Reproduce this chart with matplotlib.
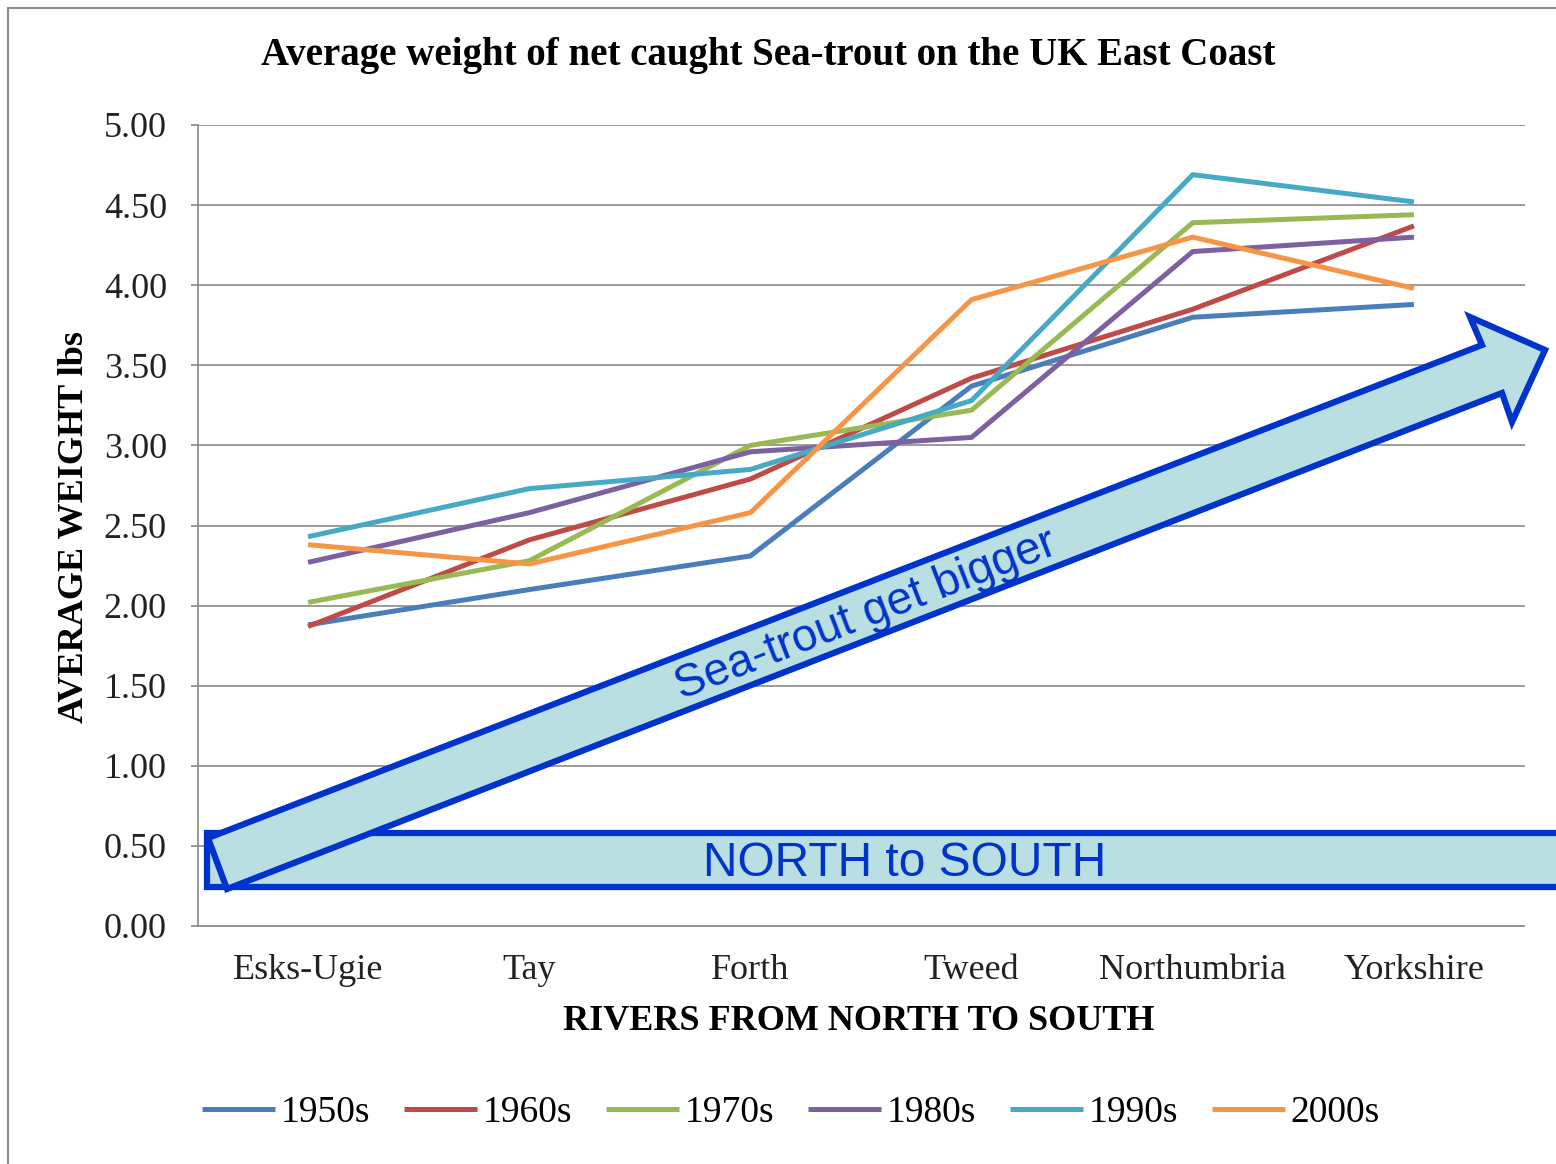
import matplotlib
matplotlib.use("Agg")
import matplotlib.pyplot as plt
from matplotlib.patches import Polygon, Rectangle

# data
rivers = ["Esks-Ugie", "Tay", "Forth", "Tweed", "Northumbria", "Yorkshire"]
decades = ["1950s", "1960s", "1970s", "1980s", "1990s", "2000s"]
w_1950s = [1.88, 2.10, 2.31, 3.37, 3.80, 3.88]
w_1960s = [1.87, 2.41, 2.79, 3.42, 3.85, 4.37]
w_1970s = [2.02, 2.28, 3.00, 3.22, 4.39, 4.44]
w_1980s = [2.27, 2.58, 2.96, 3.05, 4.21, 4.30]
w_1990s = [2.43, 2.73, 2.85, 3.28, 4.69, 4.52]
w_2000s = [2.38, 2.26, 2.58, 3.91, 4.30, 3.98]
colors = ["#4A7EBB", "#BE4B48", "#98B954", "#7D60A0", "#46AAC5", "#F69546"]
y_ticks = [0, 0.5, 1.0, 1.5, 2.0, 2.5, 3.0, 3.5, 4.0, 4.5, 5.0]

W, H = 1556, 1164
serif = "Liberation Serif"
sans = "Liberation Sans"


def fx(px):
    return px / W


def fy(py):
    return 1 - py / H


fig = plt.figure(figsize=(W / 100, H / 100), dpi=100)
ax = fig.add_axes([fx(197.5), fy(926), 1327 / W, 801 / H])

series = [w_1950s, w_1960s, w_1970s, w_1980s, w_1990s, w_2000s]
x = list(range(len(rivers)))
for vals, lab, c in zip(series, decades, colors):
    ax.plot(x, vals, color=c, lw=3.6, label=lab, solid_capstyle="butt", zorder=3)

ax.set_xlim(-0.5, 5.5)
ax.set_ylim(0, 5)
ax.set_yticks(y_ticks)
ax.set_yticklabels(["{:.2f}".format(t) for t in y_ticks], fontfamily=serif, fontsize=26, color="#222222")
ax.set_xticks(x)
ax.set_xticklabels(rivers, fontfamily=serif, fontsize=26, color="#222222")
ax.tick_params(axis="y", direction="out", length=5, width=1.2, color="#888888", pad=17)
ax.tick_params(axis="x", length=0, pad=20)
ax.grid(axis="y", color="#8a8a8a", lw=1.2)
ax.set_axisbelow(True)
for s in ["top", "right"]:
    ax.spines[s].set_visible(False)
for s in ["left", "bottom"]:
    ax.spines[s].set_color("#8a8a8a")
    ax.spines[s].set_linewidth(1.2)

fig.text(fx(768), fy(55), "Average weight of net caught Sea-trout on the UK East Coast",
         ha="center", va="center", fontfamily=serif, fontweight="bold", fontsize=28)
fig.text(fx(75), fy(527), "AVERAGE WEIGHT lbs", rotation=90, ha="center", va="center",
         fontfamily=serif, fontweight="bold", fontsize=26)
fig.text(fx(859), fy(1021), "RIVERS FROM NORTH TO SOUTH", ha="center", va="center",
         fontfamily=serif, fontweight="bold", fontsize=26)

fig.legend(loc="center", bbox_to_anchor=(fx(791), fy(1113)), ncol=6, frameon=False,
           prop={"family": serif, "size": 27}, handlelength=1.95, handletextpad=0.15,
           columnspacing=0.9)

# outer border of the chart
fig.add_artist(Rectangle((fx(8), -0.1), 1.2, fy(8) + 0.1, transform=fig.transFigure,
                         fill=False, edgecolor="#8c8c8c", lw=1.5))

edge = "#0033CC"
fill = "#B9DFE2"
# NORTH to SOUTH band
fig.add_artist(Rectangle((fx(207), fy(887)), fx(1600) - fx(207), fy(833) - fy(887),
                         transform=fig.transFigure, facecolor=fill, edgecolor=edge,
                         lw=4.5, zorder=5))
fig.text(fx(905), fy(863), "NORTH to SOUTH", ha="center", va="center", color=edge,
         fontfamily=sans, fontsize=34.5, zorder=7)

# big arrow
arrow_px = [(208, 838), (1482, 345), (1470, 317), (1545, 350), (1512, 422),
            (1502, 393), (227, 889)]
fig.add_artist(Polygon([(fx(a), fy(b)) for a, b in arrow_px], closed=True,
                       transform=fig.transFigure, facecolor=fill, edgecolor=edge,
                       lw=4.5, joinstyle="miter", zorder=6))
fig.text(fx(866), fy(615), "Sea-trout get bigger", ha="center", va="center", color=edge,
         rotation=21.2, rotation_mode="anchor", fontfamily=sans, fontsize=33, zorder=7)

fig.savefig("out.png", dpi=100)
